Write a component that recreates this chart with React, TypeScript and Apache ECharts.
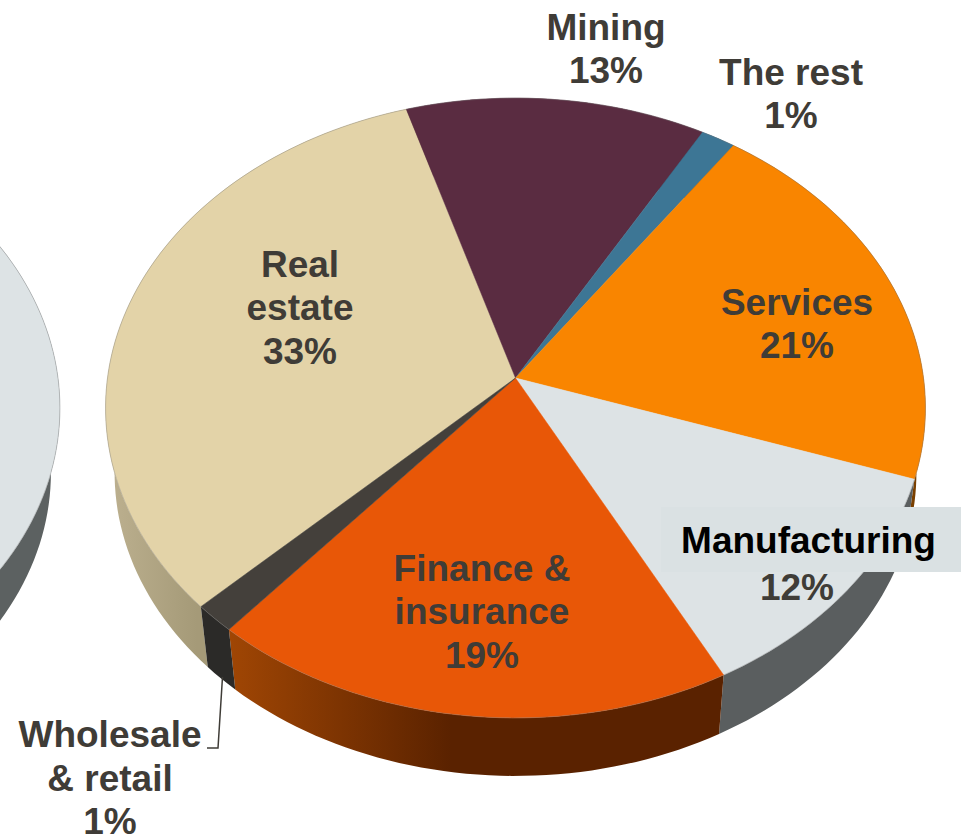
import React, { useEffect, useRef } from "react";
import * as echarts from "echarts";

// Slices clockwise, starting from the Wholesale / Real estate boundary
const categories = ["Real estate", "Mining", "The rest", "Services", "Manufacturing", "Finance & insurance", "Wholesale & retail"];
const shares = [32.5, 13, 1.5, 20.4, 12.1, 19, 1.5];
const labelPercents = [33, 13, 1, 21, 12, 19, 1];
const labelNames = [["Real", "estate"], ["Mining"], ["The rest"], ["Services"], ["Manufacturing"], ["Finance &", "insurance"], ["Wholesale", "& retail"]];
const neighbourShares = [100];

// Styling and layout
const START_ANGLE = 226;
const topColors = ["#e3d3a8", "#5a2c41", "#3d7695", "#f98500", "#dde3e5", "#e85707", "#44403b"];
const wallColors = [
  ["#bdb190", "#a59a78"],
  ["#3a1c2a", "#3a1c2a"],
  ["#264c60", "#264c60"],
  ["#7a4000", "#7a4000"],
  ["#5a5e5f", "#5a5e5f"],
  ["#a04604", "#5a2200"],
  ["#2b2a28", "#2b2a28"],
];
const wallMidStop = [0.3, 0.5, 0.5, 0.5, 0.15, 0.45, 0.5];
const labelAnchors: number[][] = [[300, 264], [606, 27], [791, 72], [797, 302], [797, 540], [482, 568], [110, 734.5]];
const LINE_H = 43.5;
const TEXT = "#3f3c37";
const FONT = "'Liberation Sans', Arial, sans-serif";

// Projection of the pie's circular plane to the screen
const K = 0.0968, B = 307, A = 408, TOP_Y = 378, MAIN_X = 515.5, NEIGHBOUR_X = -350;
const WALL_SCALE = 0.978, WALL_Y = 443.5;

function project(deg: number, cx: number, cy: number, s: number): number[] {
  const t = (deg * Math.PI) / 180;
  const u = Math.sin(t), v = -Math.cos(t);
  const d = 1 - K * v;
  return [cx + (s * A * u) / d, cy + (s * B * v) / d];
}
function arc(a0: number, a1: number, cx: number, cy: number, s: number): number[][] {
  const n = Math.max(2, Math.ceil((a1 - a0) / 1.5));
  const pts: number[][] = [];
  for (let i = 0; i <= n; i++) pts.push(project(a0 + ((a1 - a0) * i) / n, cx, cy, s));
  return pts;
}
function range(list: number[], idx: number): number[] {
  const total = list.reduce((a, b) => a + b, 0);
  let acc = 0;
  for (let i = 0; i < idx; i++) acc += list[i];
  return [START_ANGLE + (acc / total) * 360, START_ANGLE + ((acc + list[idx]) / total) * 360];
}
function wallFill(c: string[], mid: number) {
  return new echarts.graphic.LinearGradient(0, 0, 1, 0, [
    { offset: 0, color: c[0] },
    { offset: mid, color: c[1] },
    { offset: 1, color: c[1] },
  ]);
}
function wallItem(list: number[], idx: number, cx: number, colors: string[], mid: number) {
  const [a0, a1] = range(list, idx);
  const top = arc(a0, a1, cx, TOP_Y, 1);
  const low = arc(a0, a1, cx, WALL_Y, WALL_SCALE).reverse();
  return { type: "polygon", shape: { points: top.concat(low) }, style: { fill: wallFill(colors, mid) } };
}
function topItem(list: number[], idx: number, cx: number, color: string) {
  const [a0, a1] = range(list, idx);
  const rim = arc(a0, a1, cx, TOP_Y, 1);
  return {
    type: "group",
    children: [
      { type: "polygon", shape: { points: [[cx, TOP_Y], ...rim] }, style: { fill: color, stroke: color, lineWidth: 0.5 } },
      { type: "polyline", shape: { points: rim }, style: { fill: "none", stroke: "rgba(120,120,120,0.35)", lineWidth: 1 } },
    ],
  };
}

export default function App() {
  const ref = useRef<HTMLDivElement>(null);
  useEffect(() => {
    const chart = echarts.init(ref.current!, undefined, { renderer: "svg" });
    const customBase = { type: "custom", coordinateSystem: "none", silent: true, clip: false };
    chart.setOption({
      animation: false,
      backgroundColor: "#ffffff",
      series: [
        {
          ...customBase,
          name: "Neighbour wall",
          z: 1,
          data: neighbourShares,
          renderItem: (p: any) => wallItem(neighbourShares, p.dataIndex, NEIGHBOUR_X, ["#5c6161", "#5c6161"], 0.5),
        },
        {
          ...customBase,
          name: "Neighbour top",
          z: 2,
          data: neighbourShares,
          renderItem: (p: any) => topItem(neighbourShares, p.dataIndex, NEIGHBOUR_X, "#dde3e5"),
        },
        {
          ...customBase,
          name: "Walls",
          z: 3,
          data: shares,
          renderItem: (p: any) => wallItem(shares, p.dataIndex, MAIN_X, wallColors[p.dataIndex], wallMidStop[p.dataIndex]),
        },
        {
          ...customBase,
          name: "Faces",
          z: 4,
          data: shares,
          renderItem: (p: any) => topItem(shares, p.dataIndex, MAIN_X, topColors[p.dataIndex]),
        },
        {
          ...customBase,
          name: "Labels",
          z: 5,
          data: categories,
          renderItem: (p: any) => {
            const i = p.dataIndex;
            const [x, y] = labelAnchors[i];
            const lines = [...labelNames[i], `${labelPercents[i]}%`];
            const isManufacturing = categories[i] === "Manufacturing";
            const children: any[] = [];
            if (isManufacturing) {
              children.push({ type: "rect", shape: { x: 661, y: 507, width: 300, height: 65 }, style: { fill: "#dae1e3" } });
            }
            lines.forEach((line, j) => {
              const black = isManufacturing && j === 0;
              children.push({
                type: "text",
                x: black ? 808.5 : x,
                y: y + j * (isManufacturing ? 47 : LINE_H),
                style: {
                  text: line,
                  fill: black ? "#000000" : TEXT,
                  font: `bold 37px ${FONT}`,
                  textAlign: "center",
                  textVerticalAlign: "middle",
                },
              });
            });
            return { type: "group", children };
          },
        },
      ],
      graphic: [
        {
          type: "polyline",
          z: 6,
          shape: { points: [[207, 748], [218, 748], [222.5, 677]] },
          style: { fill: "none", stroke: TEXT, lineWidth: 1.5 },
        },
      ],
    });
    return () => chart.dispose();
  }, []);
  return <div ref={ref} style={{ position: "absolute", left: 0, top: 0, width: 961, height: 836 }} />;
}
